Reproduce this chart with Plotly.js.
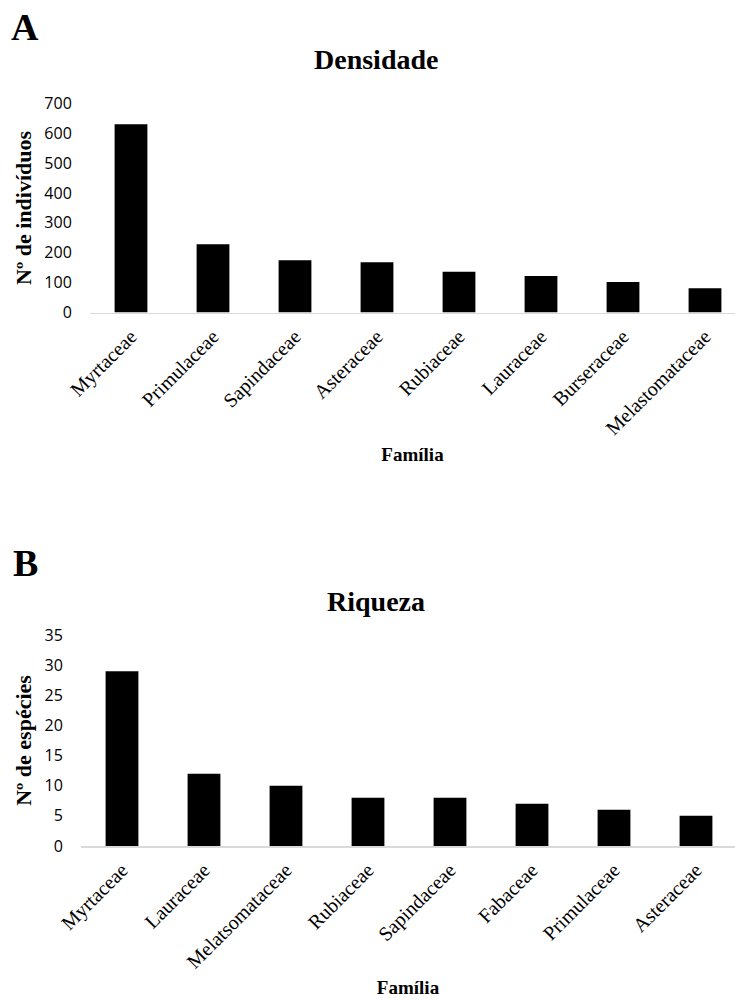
<!DOCTYPE html>
<html>
<head>
<meta charset="utf-8">
<script src="https://cdn.plot.ly/plotly-3.0.1.min.js"></script>
<style>html,body{margin:0;padding:0;background:#fff;}#chart{width:735px;height:999px;}</style>
</head>
<body>
<div id="chart"></div>
<script>
// Panel A – Densidade
const familiasA = ["Myrtaceae", "Primulaceae", "Sapindaceae", "Asteraceae", "Rubiaceae", "Lauraceae", "Burseraceae", "Melastomataceae"];
const individuosA = [630, 228, 175, 168, 136, 122, 102, 81];
// Panel B – Riqueza
const familiasB = ["Myrtaceae", "Lauraceae", "Melatsomataceae", "Rubiaceae", "Sapindaceae", "Fabaceae", "Primulaceae", "Asteraceae"];
const especiesB = [29, 12, 10, 8, 8, 7, 6, 5];
const yTicksA = [0, 100, 200, 300, 400, 500, 600, 700];
const yTicksB = [0, 5, 10, 15, 20, 25, 30, 35];

const W = 735, H = 999;
const px = x => x / W;
const py = y => 1 - y / H;

const serif = "Liberation Serif, Times New Roman, serif";
const sans = "Open Sans, Liberation Sans, Arial, sans-serif";

const traces = [
  {type: "bar", x: familiasA, y: individuosA, xaxis: "x", yaxis: "y",
   marker: {color: "#000000", line: {width: 0}}, width: 0.4, hoverinfo: "none"},
  {type: "bar", x: familiasB, y: especiesB, xaxis: "x2", yaxis: "y2",
   marker: {color: "#000000", line: {width: 0}}, width: 0.4, hoverinfo: "none"}
];

function xAxis(domainStartPx, anchor) {
  return {
    anchor: anchor,
    domain: [px(domainStartPx), 1],
    range: [-0.5, -0.5 + (W - domainStartPx) / 82],
    type: "category",
    showline: true, linecolor: "#d9d9d9", linewidth: 1.5,
    showgrid: false, zeroline: false,
    ticks: "outside", ticklen: 3, tickcolor: "rgba(0,0,0,0)",
    tickangle: -45,
    tickfont: {family: serif, size: 20, color: "#000"},
    title: {text: "<b>Família</b>", font: {family: serif, size: 19, color: "#000"}, standoff: 9},
    automargin: false, fixedrange: true
  };
}
function yAxis(domain, range, dtick, anchor, titleText, ticks) {
  return {
    anchor: anchor,
    domain: domain,
    range: range,
    tickmode: "array", tickvals: ticks,
    showline: false, showgrid: false, zeroline: false,
    ticks: "outside", ticklen: 14, tickcolor: "rgba(0,0,0,0)",
    tickfont: {family: sans, size: 16, color: "#000"},
    title: {text: "<b>" + titleText + "</b>", font: {family: serif, size: 22, color: "#000"}, standoff: 6},
    automargin: false, fixedrange: true
  };
}

const layout = {
  width: W, height: H,
  margin: {l: 0, r: 0, t: 0, b: 0, pad: 0},
  paper_bgcolor: "#fff", plot_bgcolor: "#fff",
  showlegend: false,
  xaxis: xAxis(90, "y"),
  yaxis: yAxis([py(312.5), py(103.3)], [0, 700], 100, "x", "Nº de indivíduos", yTicksA),
  xaxis2: xAxis(81, "y2"),
  yaxis2: yAxis([py(846), py(635)], [0, 35], 5, "x2", "Nº de espécies", yTicksB),
  annotations: [
    {text: "<b>A</b>", xref: "paper", yref: "paper", x: px(25), y: py(27), xanchor: "center", yanchor: "middle",
     showarrow: false, font: {family: serif, size: 38, color: "#000"}},
    {text: "<b>Densidade</b>", xref: "paper", yref: "paper", x: px(376), y: py(60), xanchor: "center", yanchor: "middle",
     showarrow: false, font: {family: serif, size: 28, color: "#000"}},
    {text: "<b>B</b>", xref: "paper", yref: "paper", x: px(25), y: py(563), xanchor: "center", yanchor: "middle",
     showarrow: false, font: {family: serif, size: 38, color: "#000"}},
    {text: "<b>Riqueza</b>", xref: "paper", yref: "paper", x: px(376), y: py(601), xanchor: "center", yanchor: "middle",
     showarrow: false, font: {family: serif, size: 28, color: "#000"}}
  ]
};

Plotly.newPlot("chart", traces, layout, {displayModeBar: false, staticPlot: true});
</script>
</body>
</html>
